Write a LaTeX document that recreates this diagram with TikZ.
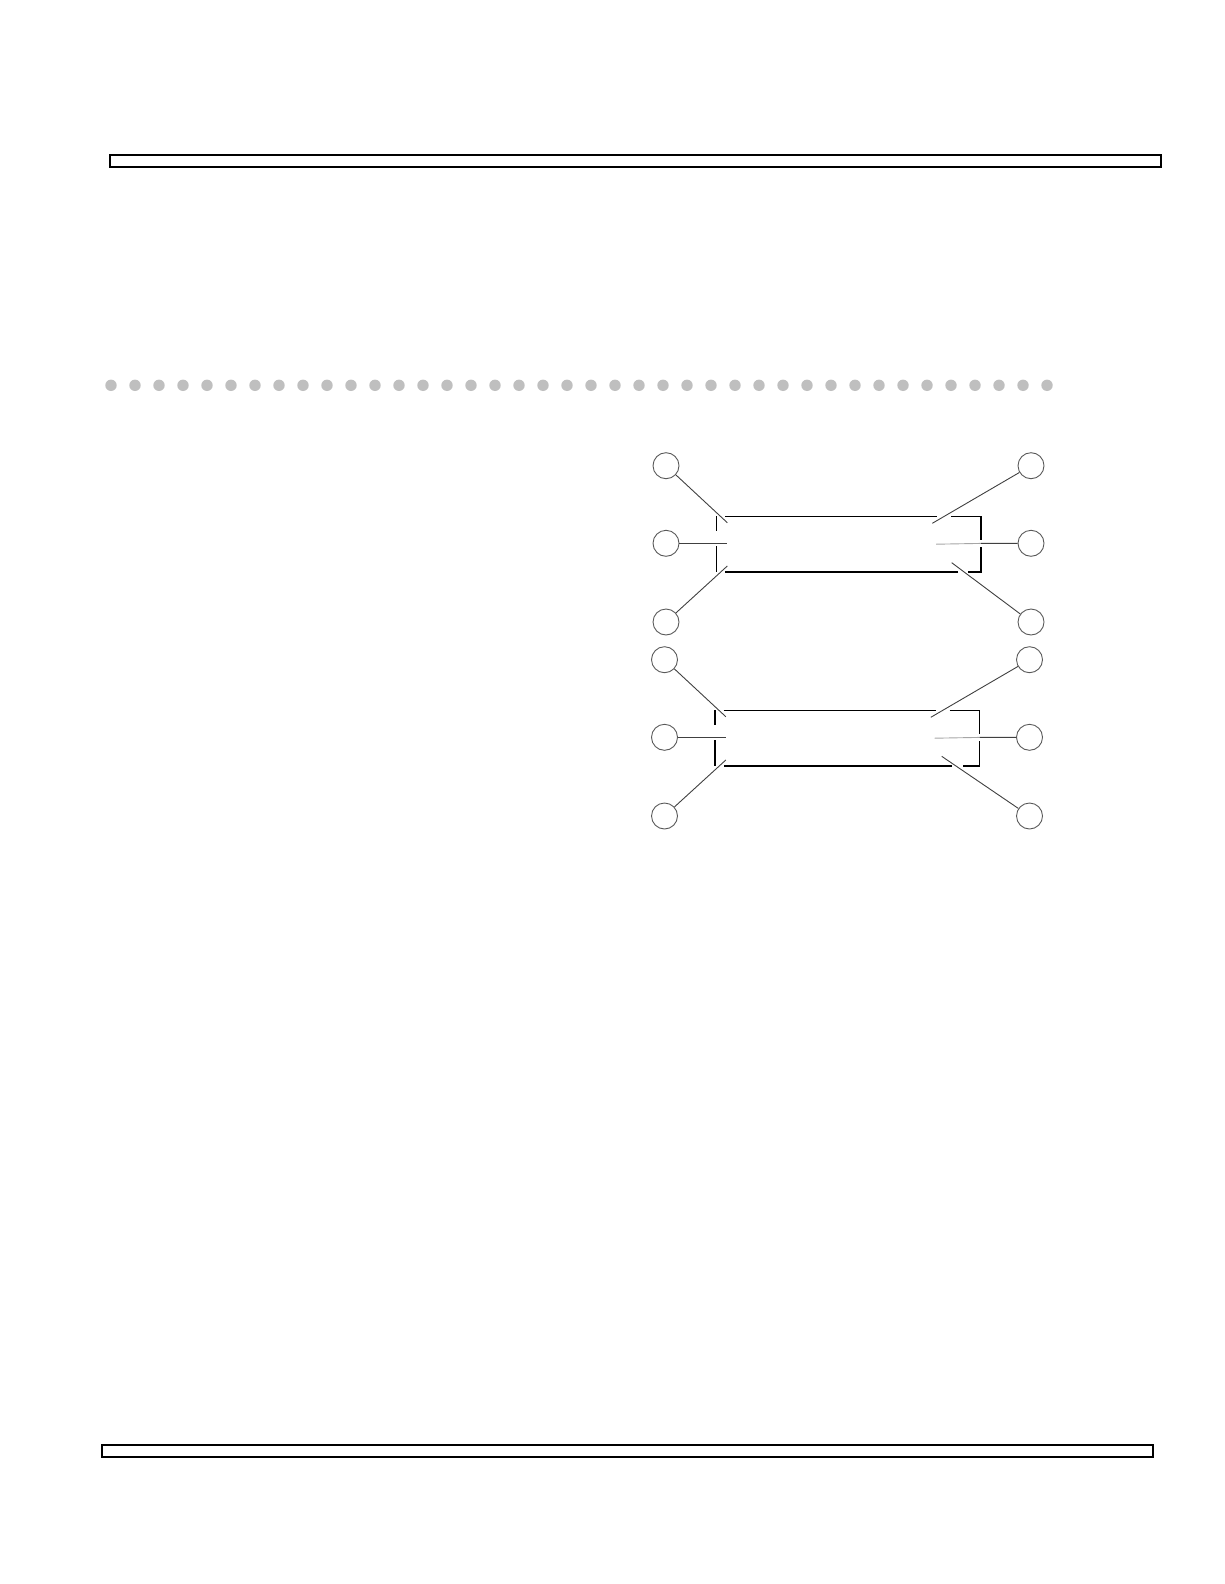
\documentclass[tikz,border=0pt]{standalone}
\begin{document}
\begin{tikzpicture}[x=1pt,y=-1pt,
  port/.style={circle,draw=black!65,line width=0.9pt,minimum size=26pt,inner sep=0pt},
  link/.style={draw=black!75,line width=0.9pt},
  linkpale/.style={draw=black!35,line width=0.9pt},
  frame/.style={draw=black,line width=1.1pt},
  barthick/.style={draw=black,line width=2pt},
  barthin/.style={draw=black,line width=1.2pt},
  dot/.style={fill=black!25}]
\useasboundingbox (0,0) rectangle (1224,1584);

% top bar
\draw[barthin] (110,154.5) rectangle (1161,167);
\draw[barthick] (110,167) -- (110,154.5) -- (1161,154.5);
\draw[barthick] (110,167) -- (1161,167);

% bottom bar
\draw[barthin] (101.7,1445) rectangle (1153,1457);
\draw[barthick] (101.7,1445) -- (101.7,1457) -- (1153,1457);

% dotted separator
\foreach \i in {0,...,39}
  \fill[dot] (111+24*\i,385.3) circle (5.7);

% two diagrams
\foreach \p/\dx/\dy/\brx/\bry/\bga/\bgb in {a/0/0/951.7/562.7/958/968, b/-1.5/194/943.2/562.3/953.5/964.5}{
\begin{scope}[shift={(\dx,\dy)}]
  \node[port] (\p-tl) at (666,465.7) {};
  \node[port] (\p-ml) at (666,543.3) {};
  \node[port] (\p-bl) at (666,622) {};
  \node[port] (\p-tr) at (1031,465.7) {};
  \node[port] (\p-mr) at (1031,543.3) {};
  \node[port] (\p-br) at (1031,622) {};
  \coordinate (\p-etl) at (727.3,522.7);
  \coordinate (\p-eml) at (727.3,543.3);
  \coordinate (\p-ebl) at (727.3,566);
  \coordinate (\p-etr) at (932.3,523.3);
  \coordinate (\p-emr) at (936,544.2);
  \coordinate (\p-emr2) at (981,543.4);
  \coordinate (\p-ebr) at (\brx,\bry);
  % box, drawn in pieces with gaps
  \draw[frame] (716.5,516.3) -- (716.5,531);
  \draw[frame] (716.5,546) -- (716.5,572);
  \draw[frame] (725,516.3) -- (937,516.3);
  \draw[frame] (951,516.3) -- (981,516.3) -- (981,540);
  \draw[frame] (981,547) -- (981,572) -- (\bgb,572);
  \draw[frame] (\bga,572) -- (725,572);
  % connectors
  \draw[link] (\p-tl) -- (\p-etl);
  \draw[link] (\p-ml) -- (\p-eml);
  \draw[link] (\p-bl) -- (\p-ebl);
  \draw[link] (\p-tr) -- (\p-etr);
  \draw[linkpale] (\p-emr) -- (\p-emr2);
  \draw[link] (\p-emr2) -- (\p-mr);
  \draw[link] (\p-br) -- (\p-ebr);
\end{scope}
}
\end{tikzpicture}
\end{document}
